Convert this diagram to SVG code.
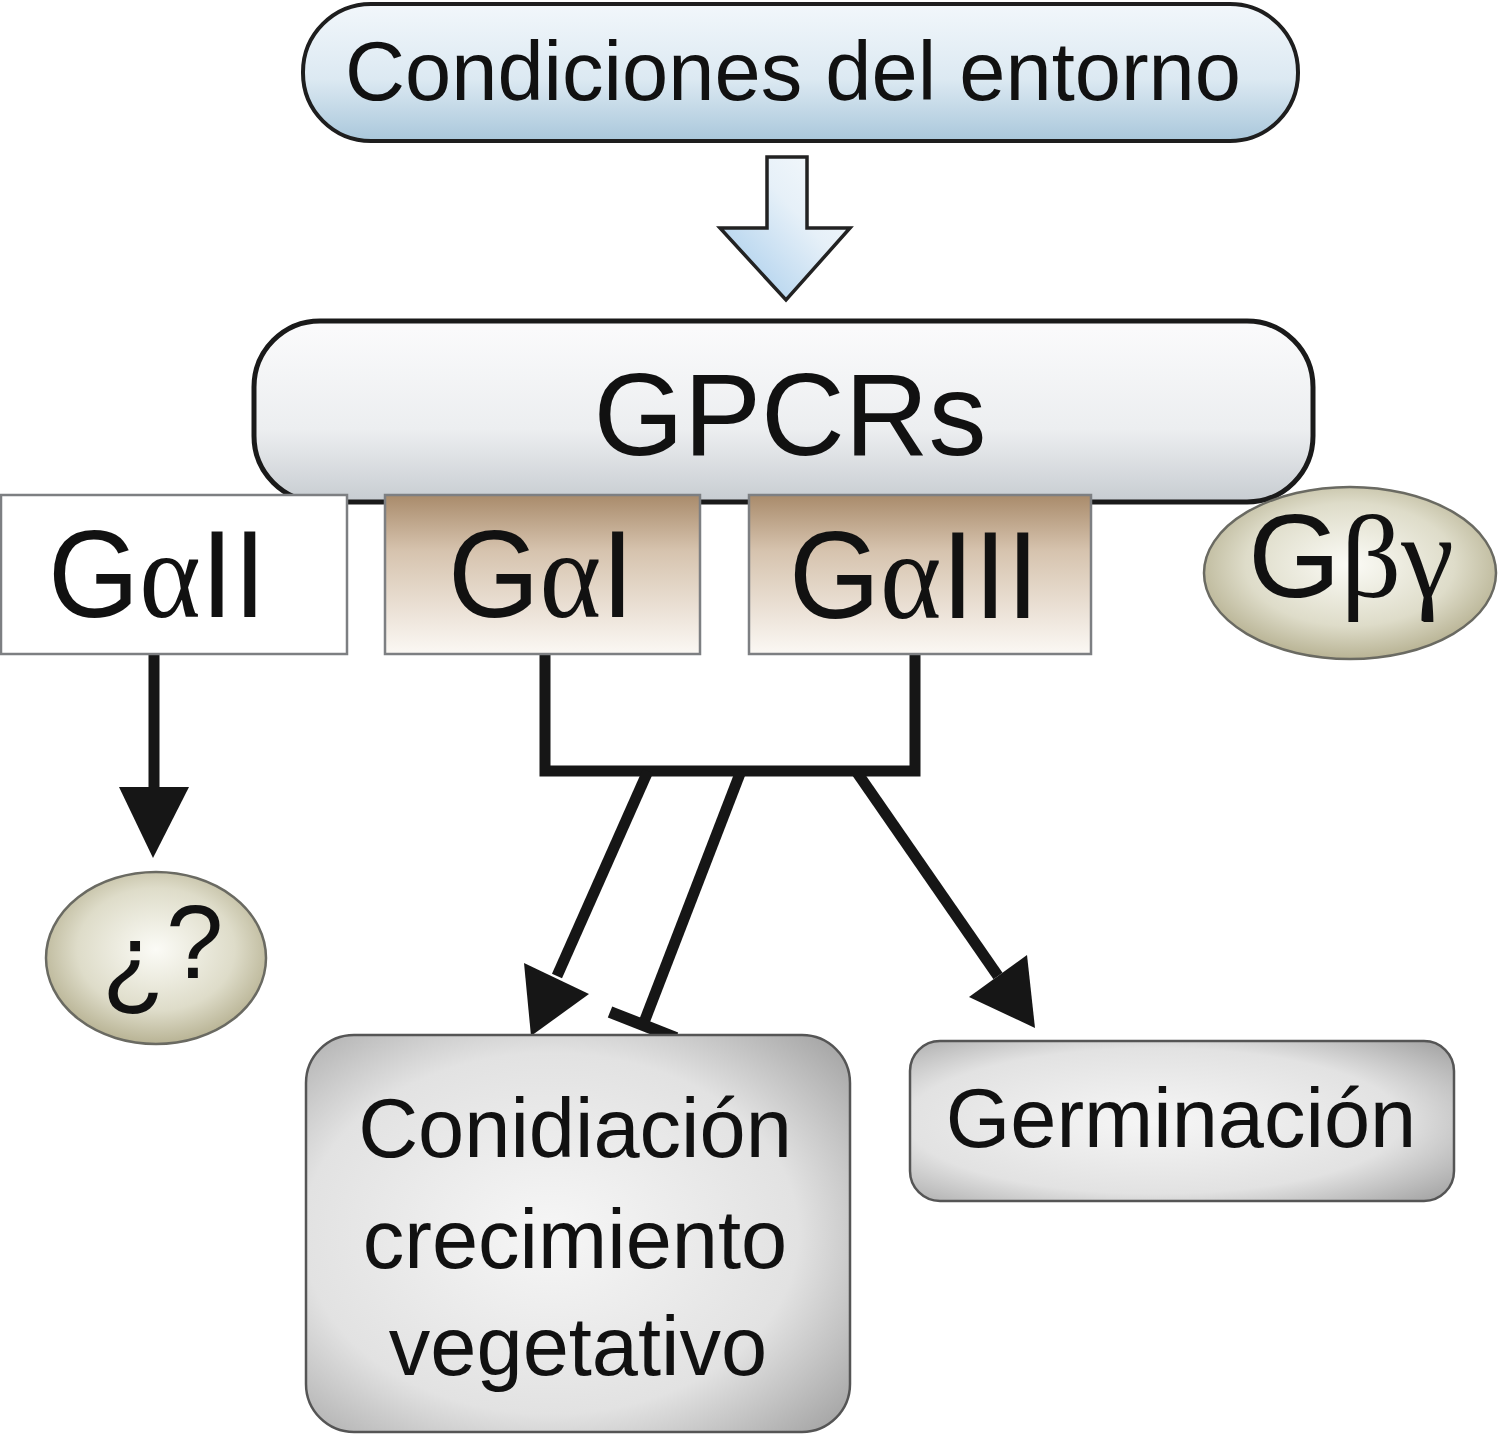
<svg xmlns="http://www.w3.org/2000/svg" width="1500" height="1436" viewBox="0 0 1500 1436">
<defs>
<style>
.t{font-family:"Liberation Sans",Arial,Helvetica,sans-serif;fill:#111}
.g{font-family:"Liberation Serif","Times New Roman",serif}
.c{stroke:#161616;stroke-width:11;fill:none}
.h{fill:#161616}
</style>
<linearGradient id="gBlue" x1="0" y1="0" x2="0" y2="1">
<stop offset="0" stop-color="#f2f7fb"/><stop offset="0.55" stop-color="#dce9f2"/><stop offset="1" stop-color="#a9c7db"/>
</linearGradient>
<linearGradient id="gArrow" x1="0" y1="1" x2="1" y2="0">
<stop offset="0" stop-color="#9fc8ea"/><stop offset="0.6" stop-color="#e6f0f8"/><stop offset="1" stop-color="#f8fbfd"/>
</linearGradient>
<linearGradient id="gGray" x1="0" y1="0" x2="0" y2="1">
<stop offset="0" stop-color="#fbfbfc"/><stop offset="0.6" stop-color="#eceef0"/><stop offset="1" stop-color="#c7ccd1"/>
</linearGradient>
<linearGradient id="gTan" x1="0" y1="0" x2="0" y2="1">
<stop offset="0" stop-color="#a98b6b"/><stop offset="0.35" stop-color="#d6c3ae"/><stop offset="1" stop-color="#fbf8f4"/>
</linearGradient>
<radialGradient id="gOlive" cx="0.5" cy="0.45" r="0.55">
<stop offset="0" stop-color="#fbfbf6"/><stop offset="0.65" stop-color="#dedcc9"/><stop offset="1" stop-color="#b8b394"/>
</radialGradient>
<radialGradient id="gBox" cx="0.45" cy="0.5" r="0.7">
<stop offset="0" stop-color="#f6f6f6"/><stop offset="0.65" stop-color="#e2e2e2"/><stop offset="1" stop-color="#a8a8a8"/>
</radialGradient>
</defs>
<rect width="1500" height="1436" fill="#ffffff"/>

<g id="connectors">
<polygon points="767,157 807,157 807,228 850,228 786,300 720,228 767,228" fill="url(#gArrow)" stroke="#222" stroke-width="3.5" stroke-linejoin="miter"/>
<line class="c" x1="154" y1="655" x2="154" y2="792"/>
<polygon class="h" points="119,787 189,787 153,858"/>
<path class="c" d="M545,655 V771 H915 V655" stroke-linejoin="miter"/>
<line class="c" x1="648" y1="771" x2="557" y2="976"/>
<polygon class="h" points="524,963 589,994 531,1036"/>
<line class="c" x1="741" y1="771" x2="643" y2="1025"/>
<line x1="610" y1="1012" x2="676" y2="1038" stroke="#161616" stroke-width="12"/>
<line class="c" x1="856" y1="771" x2="998" y2="976"/>
<polygon class="h" points="1027,955 969,997 1035,1028"/>
</g>

<g id="entorno">
<rect x="303" y="4" width="995" height="137" rx="68" fill="url(#gBlue)" stroke="#1e1e1e" stroke-width="4"/>
<text class="t" x="793" y="100" font-size="83" text-anchor="middle" textLength="896" lengthAdjust="spacingAndGlyphs">Condiciones del entorno</text>
</g>

<g id="gpcrs">
<rect x="254" y="321" width="1059" height="181" rx="66" fill="url(#gGray)" stroke="#1a1a1a" stroke-width="5"/>
<text class="t" x="790" y="455" font-size="116" text-anchor="middle" textLength="393" lengthAdjust="spacingAndGlyphs">GPCRs</text>
</g>

<g id="galphaII">
<rect x="1" y="495" width="346" height="159" fill="#ffffff" stroke="#7d7f82" stroke-width="2.5"/>
<text class="t" x="48" y="617" font-size="124" textLength="218" lengthAdjust="spacingAndGlyphs">G<tspan class="g">α</tspan>II</text>
</g>

<g id="galphaI">
<rect x="385" y="495" width="315" height="159" fill="url(#gTan)" stroke="#7d7f82" stroke-width="2.5"/>
<text class="t" x="448" y="617" font-size="124" textLength="186" lengthAdjust="spacingAndGlyphs">G<tspan class="g">α</tspan>I</text>
</g>

<g id="galphaIII">
<rect x="749" y="495" width="342" height="159" fill="url(#gTan)" stroke="#7d7f82" stroke-width="2.5"/>
<text class="t" x="789" y="618" font-size="124" textLength="250" lengthAdjust="spacingAndGlyphs">G<tspan class="g">α</tspan>III</text>
</g>

<g id="gbetagamma">
<ellipse cx="1350" cy="573" rx="146" ry="86" fill="url(#gOlive)" stroke="#6a6a62" stroke-width="2.5"/>
<text class="t" x="1248" y="597" font-size="118" textLength="206" lengthAdjust="spacingAndGlyphs">G<tspan class="g">βγ</tspan></text>
</g>

<g id="desconocido">
<ellipse cx="156" cy="958" rx="110" ry="86" fill="url(#gOlive)" stroke="#6a6a62" stroke-width="2.5"/>
<text class="t" font-size="103"><tspan x="102" y="996">¿</tspan><tspan x="166" y="978">?</tspan></text>
</g>

<g id="conidiacion">
<rect x="306" y="1035" width="544" height="397" rx="48" fill="url(#gBox)" stroke="#555" stroke-width="2.5"/>
<text class="t" x="575" y="1157" font-size="83" text-anchor="middle">Conidiación</text>
<text class="t" x="575" y="1268" font-size="83" text-anchor="middle">crecimiento</text>
<text class="t" x="578" y="1375" font-size="83" text-anchor="middle">vegetativo</text>
</g>

<g id="germinacion">
<rect x="910" y="1041" width="544" height="160" rx="30" fill="url(#gBox)" stroke="#555" stroke-width="2.5"/>
<text class="t" x="1181" y="1147" font-size="83" text-anchor="middle">Germinación</text>
</g>
</svg>
